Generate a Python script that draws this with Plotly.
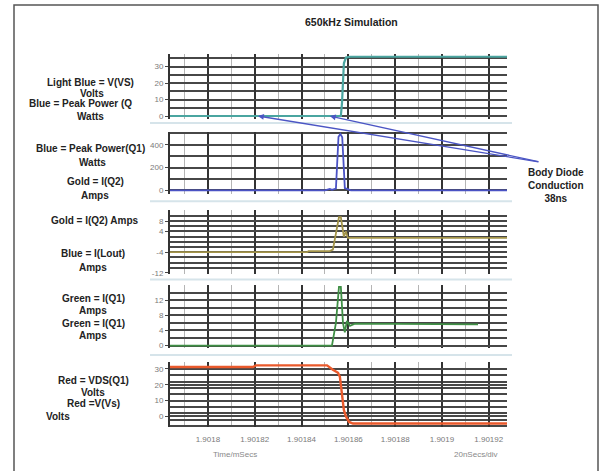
import plotly.graph_objects as go

W, H = 611, 471

# ---------------- data (time in ms) ----------------
t_vs = [1.9017838, 1.9018568, 1.9018573, 1.9018577, 1.9018581, 1.9018590, 1.9018607, 1.9019278]
v_vs = [0, 0, 8, 22, 32, 35.5, 36, 36]

t_pwr = [1.9017838, 1.9018500, 1.9018521, 1.9018530, 1.9018547, 1.9018558, 1.9018566,
         1.9018574, 1.9018585, 1.9018594, 1.9018611, 1.9019278]
p_pwr = [0, 0, 12, 5, 15, 470, 495, 465, 20, 12, 0, 0]

t_iq2 = [1.9017838, 1.9018423, 1.9018430, 1.9018521, 1.9018534, 1.9018547, 1.9018560,
         1.9018568, 1.9018577, 1.9018581, 1.9018590, 1.9018598, 1.9019278]
i_iq2 = [-4, -4, -3.6, -3.6, -3, 4, 9.5, 9.5, 5, 2, 4, 1.5, 1.5]

t_iq1 = [1.9017838, 1.9018530, 1.9018547, 1.9018560, 1.9018568, 1.9018577, 1.9018585,
         1.9018594, 1.9018607, 1.9018628, 1.9019154]
i_iq1 = [0, 0, 6, 15.5, 15.5, 6, 3.5, 6.5, 5.2, 5.8, 5.6]

t_vds = [1.9017838, 1.9018192, 1.9018205, 1.9018509, 1.9018534, 1.9018556, 1.9018564,
         1.9018573, 1.9018581, 1.9018590, 1.9018603, 1.9018620, 1.9019278]
v_vds = [31.2, 31.2, 32.2, 32.2, 29.5, 27.5, 25, 15, 4, 0, -3.5, -4.5, -4.5]

x_tickvals = [1.9018, 1.90182, 1.90184, 1.90186, 1.90188, 1.9019, 1.90192]
x_ticktext = ["1.9018", "1.90182", "1.90184", "1.90186", "1.90188", "1.9019", "1.90192"]

y1_ticks = [0, 10, 20, 30]
y2_ticks = [0, 200, 400]
y3_ticks = [8, 4, -4, -12]
y4_ticks = [0, 4, 8, 12]
y5_ticks = [0, 10, 20, 30]

left_labels = ["Light Blue = V(VS)", "Volts", "Blue = Peak Power (Q", "Watts",
               "Blue = Peak Power(Q1)", "Watts", "Gold = I(Q2)", "Amps",
               "Gold = I(Q2) Amps", "Blue = I(Lout)", "Amps",
               "Green = I(Q1)", "Amps", "Green = I(Q1)", "Amps",
               "Red = VDS(Q1)", "Volts", "Red =V(Vs)", "Volts"]
left_pos = [(90, 83), (92, 94), (80, 104), (90, 117),
            (90, 150), (92, 164), (95, 183), (95, 197),
            (95, 222), (93, 256), (93, 270),
            (93, 301), (93, 313), (93, 326), (93, 338),
            (93, 384), (93, 396), (93, 407), (58, 420)]

# ---------------- layout helpers ----------------
def px_x(x):
    return x / W

def px_y(y):
    return 1 - y / H

X0, X1 = 170, 507
x_range = [1.9017838, 1.9019278]

panels = [  # (top px, bottom px, range, ticks, minor dtick, minor tick0)
    (54, 120, [-1.8, 37.95], y1_ticks, 5, 0),
    (133, 196, [-35, 513], y2_ticks, 100, 0),
    (212, 276, [-12.3, 12.2], y3_ticks, 2, 0),
    (287, 351, [-0.65, 16.1], y4_ticks, 2, 0),
    (365, 431, [-6.9, 34.4], y5_ticks, 4, -2),
]

GRID = "#474747"
fig = go.Figure()

series = [
    (t_vs, v_vs, "#4aa5a0", 2.2),
    (t_pwr, p_pwr, "#4a52c4", 1.8),
    (t_iq2, i_iq2, "#a39449", 1.8),
    (t_iq1, i_iq1, "#3f8f45", 1.8),
    (t_vds, v_vds, "#ea5a2c", 2.4),
]

layout = dict(
    width=W, height=H, margin=dict(l=0, r=0, t=0, b=0),
    paper_bgcolor="white", plot_bgcolor="white", showlegend=False,
    font=dict(family="Liberation Sans, Arial, sans-serif"),
)

for i, ((top, bot, yr, ticks, mdt, mt0), (tx, ty, col, lw)) in enumerate(zip(panels, series), start=1):
    xa = "x" if i == 1 else f"x{i}"
    ya = "y" if i == 1 else f"y{i}"
    fig.add_trace(go.Scatter(x=tx, y=ty, mode="lines", line=dict(color=col, width=lw),
                             xaxis=xa, yaxis=ya, hoverinfo="skip"))
    xkey = "xaxis" if i == 1 else f"xaxis{i}"
    ykey = "yaxis" if i == 1 else f"yaxis{i}"
    layout[xkey] = dict(
        domain=[px_x(X0), px_x(X1)], range=x_range, anchor=ya,
        tickvals=x_tickvals, ticktext=x_ticktext,
        showticklabels=(i == 5), ticks="", ticklabelstandoff=6,
        tickfont=dict(size=8, color="#7a7a7a"),
        showgrid=True, gridcolor="#333333", gridwidth=1.6,
        minor=dict(tick0=1.9018, dtick=0.00001, showgrid=True, gridcolor="#b5b5b5", gridwidth=1),
        zeroline=False, showline=False,
    )
    if i > 1:
        layout[xkey]["matches"] = "x"
    layout[ykey] = dict(
        domain=[px_y(bot), px_y(top)], range=yr, anchor=xa,
        tickvals=ticks, ticktext=[str(v) for v in ticks],
        tickfont=dict(size=8, color="#7a7a7a"),
        ticks="outside", ticklen=3, tickcolor=GRID,
        showgrid=True, gridcolor=GRID, gridwidth=1.5,
        minor=dict(tick0=mt0, dtick=mdt, showgrid=True, gridcolor=GRID, gridwidth=1.5),
        zeroline=False, showline=True, linecolor="#333", linewidth=2,
    )

fig.update_layout(**layout)

shapes = []
# outer border
shapes.append(dict(type="rect", xref="paper", yref="paper",
                   x0=px_x(14), x1=px_x(598), y0=px_y(476), y1=px_y(5),
                   line=dict(color="#555", width=1.5), fillcolor="rgba(0,0,0,0)"))
# pale separators between panels
for ys in [124, 203, 282, 358]:
    shapes.append(dict(type="line", xref="paper", yref="paper",
                       x0=px_x(150), x1=px_x(512), y0=px_y(ys), y1=px_y(ys),
                       line=dict(color="#d6e4ea", width=2)))
fig.update_layout(shapes=shapes)

ann = []
ann.append(dict(text="<b>650kHz Simulation</b>", xref="paper", yref="paper",
                x=px_x(351), y=px_y(22), showarrow=False, xanchor="center", yanchor="middle",
                font=dict(size=10.5, color="#222")))
for txt, (cx, cy) in zip(left_labels, left_pos):
    ann.append(dict(text=f"<b>{txt}</b>", xref="paper", yref="paper",
                    x=px_x(cx), y=px_y(cy), showarrow=False, xanchor="center", yanchor="middle",
                    font=dict(size=10, color="#222")))
ann.append(dict(text="<b>Body Diode<br>Conduction<br>38ns</b>", xref="paper", yref="paper",
                x=px_x(556), y=px_y(187), showarrow=False, xanchor="center", yanchor="middle",
                font=dict(size=10, color="#222")))
ann.append(dict(text="Time/mSecs", xref="paper", yref="paper", x=px_x(235), y=px_y(458),
                showarrow=False, xanchor="center", yanchor="middle", font=dict(size=8, color="#888")))
ann.append(dict(text="20nSecs/div", xref="paper", yref="paper", x=px_x(476), y=px_y(458),
                showarrow=False, xanchor="center", yanchor="middle", font=dict(size=8, color="#888")))
# arrows for body diode conduction (heads on V(VS) trace at 0 V)
for hx, tail_dx in [(1.9018214, 282), (1.9018521, 210)]:
    ann.append(dict(text="", x=hx, y=0, xref="x", yref="y", showarrow=True,
                    ax=tail_dx, ay=46, arrowhead=2, arrowsize=0.9, arrowwidth=1.3,
                    arrowcolor="#4b55c4", standoff=0))
fig.update_layout(annotations=ann)

fig.write_html("out.html", config={"displayModeBar": False},
               post_script="document.body.style.margin='0';document.body.style.overflow='hidden';")
